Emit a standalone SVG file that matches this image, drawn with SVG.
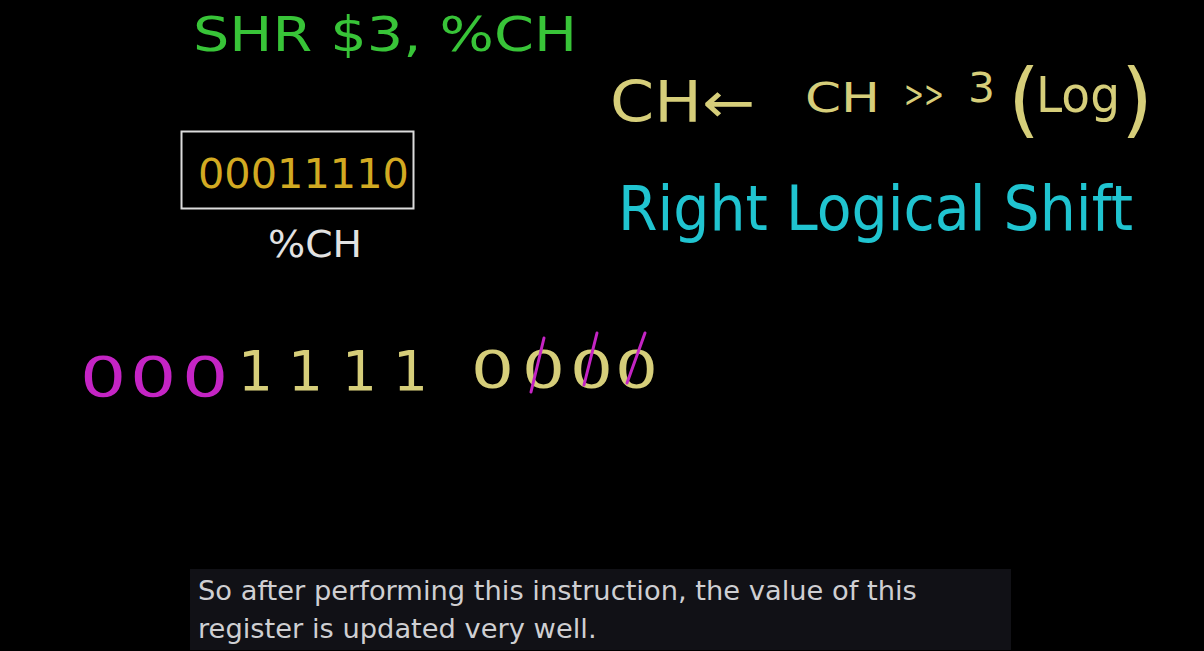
<svg xmlns="http://www.w3.org/2000/svg" width="1204" height="651" viewBox="0 0 1204 651">
<style>
.h{font-family:"DejaVu Sans","Liberation Sans",sans-serif;font-weight:normal}
.g{fill:#38c438}
.gold{fill:#d2aa22}
.wh{fill:#e2e2e2}
.kh{fill:#d6ce7a}
.cy{fill:#20c4d0}
.mg{fill:#c424c4}
.cap{font-family:"DejaVu Sans","Liberation Sans",sans-serif;font-size:27.3px;fill:#cfcfd2}
</style>
<rect width="1204" height="651" fill="#000"/>
<g id="instruction">
<text class="h g" x="193" y="51" font-size="48" textLength="384" lengthAdjust="spacingAndGlyphs">SHR $3, %CH</text>
</g>
<g id="register">
<rect x="181.5" y="131.5" width="232" height="77" fill="none" stroke="#dcdcdc" stroke-width="2"/>
<text class="h gold" x="198" y="188" font-size="41" textLength="211" lengthAdjust="spacingAndGlyphs">00011110</text>
<text class="h wh" x="268" y="257" font-size="37" textLength="94" lengthAdjust="spacingAndGlyphs">%CH</text>
</g>
<g id="formula">
<text class="h kh" x="610" y="122" font-size="57" textLength="145" lengthAdjust="spacingAndGlyphs">CH←</text>
<text class="h kh" x="805" y="112" font-size="41" textLength="75" lengthAdjust="spacingAndGlyphs">CH</text>
<text class="h kh" x="904" y="107" font-size="38" textLength="40" lengthAdjust="spacingAndGlyphs">&gt;&gt;</text>
<text class="h kh" x="968" y="102" font-size="41" textLength="27" lengthAdjust="spacingAndGlyphs">3</text>
<text class="h kh" x="1008" y="127" font-size="82">(</text>
<text class="h kh" x="1036" y="112" font-size="50" textLength="84" lengthAdjust="spacingAndGlyphs">Log</text>
<text class="h kh" x="1121" y="127" font-size="82">)</text>
</g>
<g id="title">
<text class="h cy" x="618" y="230" font-size="62" textLength="515" lengthAdjust="spacingAndGlyphs">Right Logical Shift</text>
</g>
<g id="result">
<text class="h mg" transform="scale(1.3,1)" x="61.5 100 140" y="396" font-size="56">000</text>
<text class="h kh" x="238 288 342 393" y="390" font-size="55">1111</text>
<text class="h kh" transform="scale(1.3,1)" x="362.3 401.5 438.5 473.1" y="388" font-size="52">0000</text>
<g stroke="#c424c4" stroke-width="3" stroke-linecap="round">
<line x1="544" y1="338" x2="531" y2="392"/>
<line x1="597" y1="333" x2="584" y2="385"/>
<line x1="645" y1="333" x2="627" y2="383"/>
</g>
</g>
<g id="caption">
<rect x="190" y="569" width="821" height="81" fill="#111116"/>
<text class="cap" x="198" y="600">So after performing this instruction, the value of this</text>
<text class="cap" x="198" y="638">register is updated very well.</text>
</g>
</svg>
